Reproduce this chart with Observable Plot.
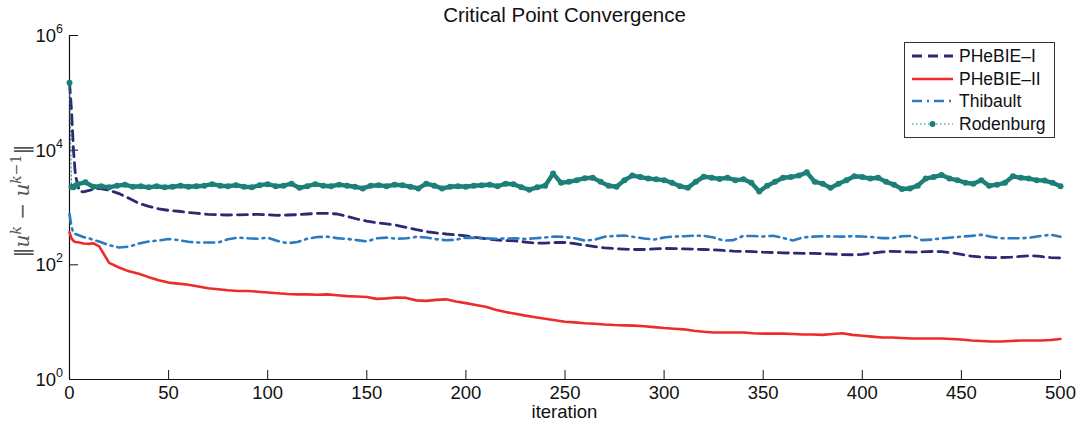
<!DOCTYPE html>
<html>
<head>
<meta charset="utf-8">
<script src="https://cdn.jsdelivr.net/npm/d3@7"></script>
<script src="https://cdn.jsdelivr.net/npm/@observablehq/plot@0.6"></script>
<style>
  html, body { margin: 0; padding: 0; background: #fff; }
  #chart svg { display: block; }
</style>
</head>
<body>
<div id="chart"></div>
<script>
// ---------------- data ----------------
const title = "Critical Point Convergence";
const xLabel = "iteration";
const seriesNames = ["PHeBIE\u2013I", "PHeBIE\u2013II", "Thibault", "Rodenburg"];
const seriesColors = ["#2b2a72", "#ee2b2b", "#2c7bbf", "#1c8078"];
const xTicks = [0, 50, 100, 150, 200, 250, 300, 350, 400, 450, 500];
const yTicks = [1, 1e2, 1e4, 1e6];
const yTickExponents = ["0", "2", "4", "6"];

// iterations for the smooth series
const iterA = [0, 1, 2, 3, 5, 7, 10, 12, 15, ...d3.range(20, 501, 5)];

const phebieI = [150000, 50000, 10000, 3600, 1900, 1880, 1980, 2080, 2150,
  2000, 1750, 1450, 1180, 1050, 950, 890, 860, 820, 790, 760, 750, 740, 745, 750, 760,
  745, 730, 740, 750, 770, 790, 790, 770, 700, 630, 580, 540, 520, 490, 450, 410,
  380, 360, 345, 335, 320, 300, 285, 272, 265, 262, 250, 238, 240, 245, 245, 235,
  220, 208, 198, 192, 188, 185, 185, 190, 193, 192, 190, 188, 185, 182, 178, 173,
  172, 170, 166, 164, 162, 160, 158, 158, 156, 154, 151, 150, 152, 160, 168, 172,
  170, 166, 168, 171, 170, 162, 152, 142, 137, 134, 134, 136, 140, 144, 140, 134, 132];

const phebieII = [370, 290, 262, 250, 245, 235, 232, 238, 210,
  108, 90, 77, 70, 61, 54, 49, 47, 45, 42, 39, 37.5, 36, 35, 35, 34,
  33, 32, 31, 30.5, 30.5, 30, 30.5, 29.5, 28.5, 28, 27.5, 25.5, 26, 27, 26.5, 24,
  23.5, 24.5, 25, 23, 21.5, 20, 18.5, 16.5, 15, 14, 13, 12.2, 11.5, 10.8, 10.2, 9.9,
  9.6, 9.4, 9.1, 8.9, 8.8, 8.7, 8.5, 8.2, 7.9, 7.7, 7.5, 7.1, 6.8, 6.6, 6.6, 6.6,
  6.6, 6.4, 6.3, 6.3, 6.3, 6.2, 6.1, 6.1, 6.0, 6.2, 6.4, 6.0, 5.8, 5.6, 5.4, 5.4,
  5.3, 5.2, 5.2, 5.2, 5.2, 5.1, 5.0, 4.8, 4.7, 4.6, 4.6, 4.7, 4.8, 4.8, 4.8, 4.9, 5.1];

const thibault = [780, 460, 360, 345, 325, 305, 290, 270, 255,
  220, 200, 208, 235, 255, 266, 282, 270, 252, 245, 245, 245, 280, 298, 290, 285,
  298, 260, 238, 250, 285, 305, 310, 292, 283, 270, 256, 290, 298, 285, 290, 308,
  300, 280, 268, 275, 298, 295, 290, 285, 288, 290, 282, 290, 300, 312, 305, 290,
  265, 275, 310, 318, 325, 305, 288, 276, 300, 312, 315, 322, 320, 300, 265, 270,
  320, 318, 312, 322, 295, 266, 300, 310, 315, 312, 310, 315, 312, 305, 292, 292,
  315, 320, 270, 275, 290, 300, 310, 320, 335, 310, 290, 290, 290, 300, 318, 335, 310];

// Rodenburg is sampled more densely (it is noisy)
const iterR = [0, 1, 2, 3, ...d3.range(4, 501, 4)];
const rodenburg = [150000, 2300, 2250, 2400,
  2550, 2750, 2300, 2350, 2250, 2400, 2500, 2300, 2350, 2250, 2350, 2250, 2300, 2400,
  2300, 2350, 2400, 2550, 2400, 2350, 2450, 2300, 2250, 2450, 2550, 2350, 2400, 2600,
  2200, 2350, 2550, 2400, 2350, 2500, 2400, 2300, 2150, 2400, 2450, 2350, 2500, 2450,
  2300, 2150, 2600, 2400, 2150, 2300, 2350, 2300, 2400, 2450, 2500, 2350, 2600, 2550,
  2250, 2050, 2250, 2400, 3900, 2700, 2800, 3000, 3250, 3300, 2800, 2400, 2300, 3000,
  3600, 3400, 3200, 3100, 3000, 2700, 2350, 2200, 2800, 3450, 3300, 3150, 3300, 3000,
  3100, 2700, 1900, 2400, 2800, 3300, 3400, 3600, 4100, 2800, 2600, 2200, 2600, 3000,
  3500, 3400, 3200, 3300, 2800, 2500, 2100, 2150, 2400, 3200, 3400, 3700, 3200, 3000,
  2700, 2600, 3000, 2400, 2500, 2700, 3500, 3300, 3200, 3000, 2950, 2700, 2350];

// ---------------- tables ----------------
const rowsOf = (iters, vals) => iters.map((it, i) => ({iter: it, value: vals[i]}));
const rowsI = rowsOf(iterA, phebieI);
const rowsII = rowsOf(iterA, phebieII);
const rowsT = rowsOf(iterA, thibault);
const rowsR = rowsOf(iterR, rodenburg);

const font = "'Liberation Sans', Arial, Helvetica, sans-serif";
const W = 1081, H = 429, mL = 69, mR = 21, mT = 35, mB = 50;
const tickLen = 9;

const plot = Plot.plot({
  width: W,
  height: H,
  marginLeft: mL,
  marginRight: mR,
  marginTop: mT,
  marginBottom: mB,
  style: {fontFamily: font, fontSize: "18px", color: "#1a1a1a", background: "#fff", overflow: "visible"},
  x: {domain: [0, 500]},
  y: {type: "log", domain: [1, 1e6], axis: null},
  marks: [
    // inward ticks
    Plot.tickX(xTicks, {x: d => d, stroke: "#111", strokeWidth: 1, insetTop: (H - mT - mB) - tickLen}),
    Plot.tickY(yTicks, {y: d => d, stroke: "#111", strokeWidth: 1, insetRight: (W - mL - mR) - tickLen}),
    Plot.axisX(xTicks, {tickSize: 0, tickPadding: 6, label: null, fontSize: 18.5, fill: "#111"}),
    Plot.ruleX([0], {stroke: "#111", strokeWidth: 1.2}),
    Plot.ruleY([1], {stroke: "#111", strokeWidth: 1.2}),
    Plot.line(rowsI, {x: "iter", y: "value", stroke: seriesColors[0], strokeWidth: 2.8, strokeDasharray: "10,6"}),
    Plot.line(rowsII, {x: "iter", y: "value", stroke: seriesColors[1], strokeWidth: 2.6}),
    Plot.line(rowsT, {x: "iter", y: "value", stroke: seriesColors[2], strokeWidth: 2.6, strokeDasharray: "10,5,2,5"}),
    Plot.line(rowsR, {x: "iter", y: "value", stroke: seriesColors[3], strokeWidth: 1, strokeDasharray: "1.5,2.5"}),
    Plot.line(rowsR.filter(d => d.iter >= 1), {x: "iter", y: "value", stroke: seriesColors[3], strokeWidth: 4.4}),
    Plot.dot(rowsR, {x: "iter", y: "value", fill: seriesColors[3], r: 3})
  ]
});

document.getElementById("chart").appendChild(plot);

const svg = d3.select(plot);
const sy = plot.scale("y");
const sx = plot.scale("x");

// Title
svg.append("text")
  .attr("x", (sx.apply(0) + sx.apply(500)) / 2)
  .attr("y", 22)
  .attr("text-anchor", "middle")
  .attr("font-family", font)
  .attr("font-size", 20.5)
  .attr("fill", "#111")
  .text(title);

// x label
svg.append("text")
  .attr("x", (sx.apply(0) + sx.apply(500)) / 2)
  .attr("y", 418)
  .attr("text-anchor", "middle")
  .attr("font-family", font)
  .attr("font-size", 18.5)
  .attr("fill", "#111")
  .text(xLabel);

// y tick labels 10^n
yTicks.forEach((v, i) => {
  const y = sy.apply(v);
  svg.append("text")
    .attr("x", 56).attr("y", y + 7)
    .attr("text-anchor", "end")
    .attr("font-family", font).attr("font-size", 18.5).attr("fill", "#111")
    .text("10");
  svg.append("text")
    .attr("x", 56).attr("y", y - 2)
    .attr("text-anchor", "start")
    .attr("font-family", font).attr("font-size", 12.5).attr("fill", "#111")
    .text(yTickExponents[i]);
});

// y label ||u^k - u^{k-1}||
const yl = svg.append("text")
  .attr("transform", `translate(29,${(sy.apply(1) + sy.apply(1e6)) / 2 - 6}) rotate(-90)`)
  .attr("text-anchor", "middle")
  .attr("font-family", "'DejaVu Serif', 'Liberation Serif', serif")
  .attr("font-size", 20)
  .attr("fill", "#555");
yl.append("tspan").attr("font-family", "'DejaVu Sans', sans-serif").text("\u2016");
yl.append("tspan").attr("font-style", "italic").text("u");
yl.append("tspan").attr("font-style", "italic").attr("font-size", 14).attr("dy", -8).text("k");
yl.append("tspan").attr("dy", 8).text(" \u2212 ");
yl.append("tspan").attr("font-style", "italic").text("u");
yl.append("tspan").attr("font-style", "italic").attr("font-size", 14).attr("dy", -8).text("k");
yl.append("tspan").attr("font-size", 14).text("\u22121");
yl.append("tspan").attr("font-family", "'DejaVu Sans', sans-serif").attr("dy", 8).text("\u2016");

// Legend
const lg = svg.append("g").attr("text-anchor", "start");
lg.append("rect")
  .attr("x", 904.5).attr("y", 42.5).attr("width", 150).attr("height", 95)
  .attr("fill", "#fff").attr("stroke", "#333").attr("stroke-width", 1);
const rowY = [56, 79, 101, 124];
const styles = [
  {w: 2.8, dash: "10,6"},
  {w: 2.6, dash: null},
  {w: 2.6, dash: "10,5,2,5"},
  {w: 1, dash: "1.5,2.5"}
];
seriesNames.forEach((name, i) => {
  const y = rowY[i];
  const ln = lg.append("line")
    .attr("x1", 912).attr("x2", 953).attr("y1", y).attr("y2", y)
    .attr("stroke", seriesColors[i]).attr("stroke-width", styles[i].w);
  if (styles[i].dash) ln.attr("stroke-dasharray", styles[i].dash);
  if (i === 3) {
    lg.append("circle").attr("cx", 932.5).attr("cy", y).attr("r", 3).attr("fill", seriesColors[i]);
  }
  lg.append("text")
    .attr("x", 959).attr("y", y + 6)
    .attr("text-anchor", "start")
    .attr("font-family", font).attr("font-size", 17.5).attr("fill", "#111")
    .text(name);
});
</script>
</body>
</html>
